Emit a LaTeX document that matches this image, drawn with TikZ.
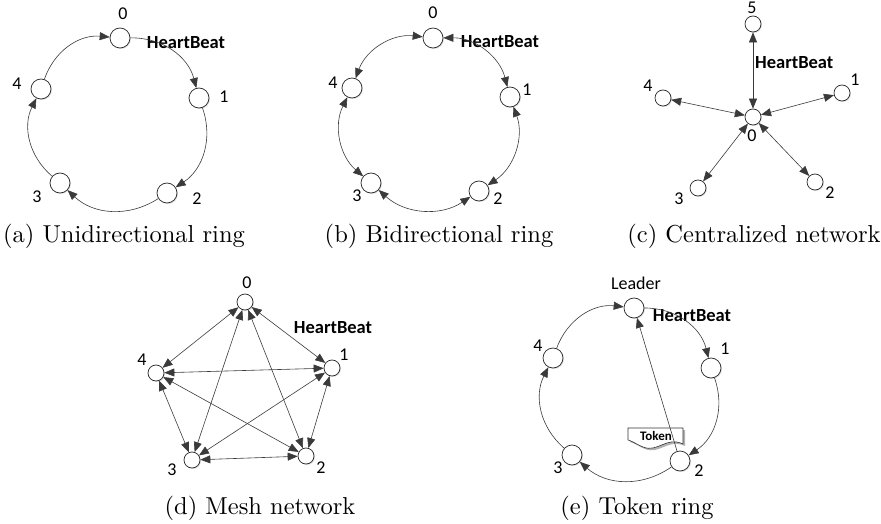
\documentclass[tikz,border=0pt]{standalone}
\usepackage{fontspec}
\newfontfamily\lbl{Carlito}
\newfontfamily\capfont{lmroman10-regular.otf}
\usetikzlibrary{arrows.meta,shadows}
\definecolor{lc}{HTML}{3A3A3A}
\begin{document}
\begin{tikzpicture}[x=1pt,y=-1pt,
  nd/.style={circle,draw=black!85,fill=white,line width=0.7pt,inner sep=0pt,minimum size=20pt,
    drop shadow={shadow xshift=1pt,shadow yshift=-1pt,opacity=0.25}},
  ndsm/.style={nd,minimum size=16pt},
  lab/.style={font=\lbl\fontsize{18}{20}\selectfont,inner sep=0pt},
  hb/.style={font=\lbl\bfseries\fontsize{18.5}{20}\selectfont,inner sep=0pt},
  tok/.style={font=\lbl\bfseries\fontsize{13}{15}\selectfont,inner sep=0pt},
  captxt/.style={font=\capfont\fontsize{24.5}{28}\selectfont,inner sep=0pt},
  con/.style={draw=lc,line width=0.6pt},
  tipe/.style={-{Triangle[length=10pt,width=8pt]}},
  bi/.style={{Triangle[length=10pt,width=8pt]}-{Triangle[length=10pt,width=8pt]}},
]
\useasboundingbox (0,0) rectangle (881,524);

% (a) Unidirectional ring
\node[nd] (a0) at (120,38) {};
\node[nd] (a1) at (199,98) {};
\node[nd] (a2) at (167,193) {};
\node[nd] (a3) at (60,183) {};
\node[nd] (a4) at (41,89) {};
\node[lab] (la0) at (123,14) {0};
\node[lab] (la1) at (224,97) {1};
\node[lab] (la2) at (197,199) {2};
\node[lab] (la3) at (37,197) {3};
\node[lab] (la4) at (17,84) {4};
\node[hb] (hba) at (186,43) {HeartBeat};
\draw[con,tipe] (a0) to[bend left=38] (a1);
\draw[con,tipe] (a1) to[bend left=38] (a2);
\draw[con,tipe] (a2) to[bend left=38] (a3);
\draw[con,tipe] (a3) to[bend left=38] (a4);
\draw[con,tipe] (a4) to[bend left=38] (a0);
\node[captxt] (capa) at (124,236) {(a) Unidirectional ring};

% (b) Bidirectional ring
\node[nd] (b0) at (433,38) {};
\node[nd] (b1) at (510,97) {};
\node[nd] (b2) at (479,191) {};
\node[nd] (b3) at (371,183) {};
\node[nd] (b4) at (352,88) {};
\node[lab] (lb0) at (433,13) {0};
\node[lab] (lb1) at (527,90) {1};
\node[lab] (lb2) at (498,199) {2};
\node[lab] (lb3) at (357,196) {3};
\node[lab] (lb4) at (333,83) {4};
\node[hb] (hbb) at (500,42) {HeartBeat};
\draw[con,bi] (b0) to[bend left=38] (b1);
\draw[con,bi] (b1) to[bend left=38] (b2);
\draw[con,bi] (b2) to[bend left=38] (b3);
\draw[con,bi] (b3) to[bend left=38] (b4);
\draw[con,bi] (b4) to[bend left=38] (b0);
\node[captxt] (capb) at (439,236) {(b) Bidirectional ring};

% (c) Centralized network
\node[ndsm] (c0) at (753,117) {};
\node[ndsm] (c5) at (753,24) {};
\node[ndsm] (c1) at (842,93) {};
\node[ndsm] (c2) at (815,182) {};
\node[ndsm] (c3) at (698,188) {};
\node[ndsm] (c4) at (663,98) {};
\node[lab] (lc0) at (752,136) {0};
\node[lab] (lc5) at (752,8) {5};
\node[lab] (lc1) at (855,80) {1};
\node[lab] (lc2) at (830,193) {2};
\node[lab] (lc3) at (679,199) {3};
\node[lab] (lc4) at (648,86) {4};
\node[hb,anchor=west] (hbc) at (755,63) {HeartBeat};
\foreach \k in {1,2,3,4,5} {\draw[con,bi] (c0) -- (c\k);}
\node[captxt] (capc) at (754,236) {(c) Centralized network};

% (d) Mesh network
\node[ndsm] (d0) at (245,302) {};
\node[ndsm] (d1) at (332,368) {};
\node[ndsm] (d2) at (306,456) {};
\node[ndsm] (d3) at (192,460) {};
\node[ndsm] (d4) at (156,373) {};
\node[lab] (ld0) at (247,283) {0};
\node[lab] (ld1) at (344,355) {1};
\node[lab] (ld2) at (321,468) {2};
\node[lab] (ld3) at (172,470) {3};
\node[lab] (ld4) at (142,360) {4};
\node[hb] (hbd) at (333,328) {HeartBeat};
\foreach \i/\j in {0/1,0/2,0/3,0/4,1/2,1/3,1/4,2/3,2/4,3/4} {\draw[con,bi] (d\i) -- (d\j);}
\node[captxt] (capd) at (260,508) {(d) Mesh network};

% (e) Token ring
\node[nd] (e0) at (634,308) {};
\node[nd] (e1) at (711,368) {};
\node[nd] (e2) at (680,461) {};
\node[nd] (e3) at (572,455) {};
\node[nd] (e4) at (553,358) {};
\node[lab] (le0) at (636,283) {Leader};
\node[lab] (le1) at (725,349) {1};
\node[lab] (le2) at (699,471) {2};
\node[lab] (le3) at (558,468) {3};
\node[lab] (le4) at (538,346) {4};
\node[hb] (hbe) at (692,316) {HeartBeat};
\draw[con,tipe] (e0) to[bend left=38] (e1);
\draw[con,tipe] (e1) to[bend left=38] (e2);
\draw[con,tipe] (e2) to[bend left=38] (e3);
\draw[con,tipe] (e3) to[bend left=38] (e4);
\draw[con,tipe] (e4) to[bend left=38] (e0);
\fill[black!30] (630,430) -- (685,430) -- (685,446) .. controls (668,438) and (660,455) .. (645,449) .. controls (638,446) and (634,443) .. (630,442) -- cycle;
\draw[fill=white,draw=black!80,line width=0.6pt] (628,428) -- (683,428) -- (683,444) .. controls (666,436) and (658,453) .. (643,447) .. controls (636,444) and (632,441) .. (628,440) -- cycle;
\node[tok] (tk) at (656,436) {Token};
\draw[con,tipe] (e2) -- (e0);
\node[captxt] (cape) at (637,508) {(e) Token ring};
\end{tikzpicture}
\end{document}
